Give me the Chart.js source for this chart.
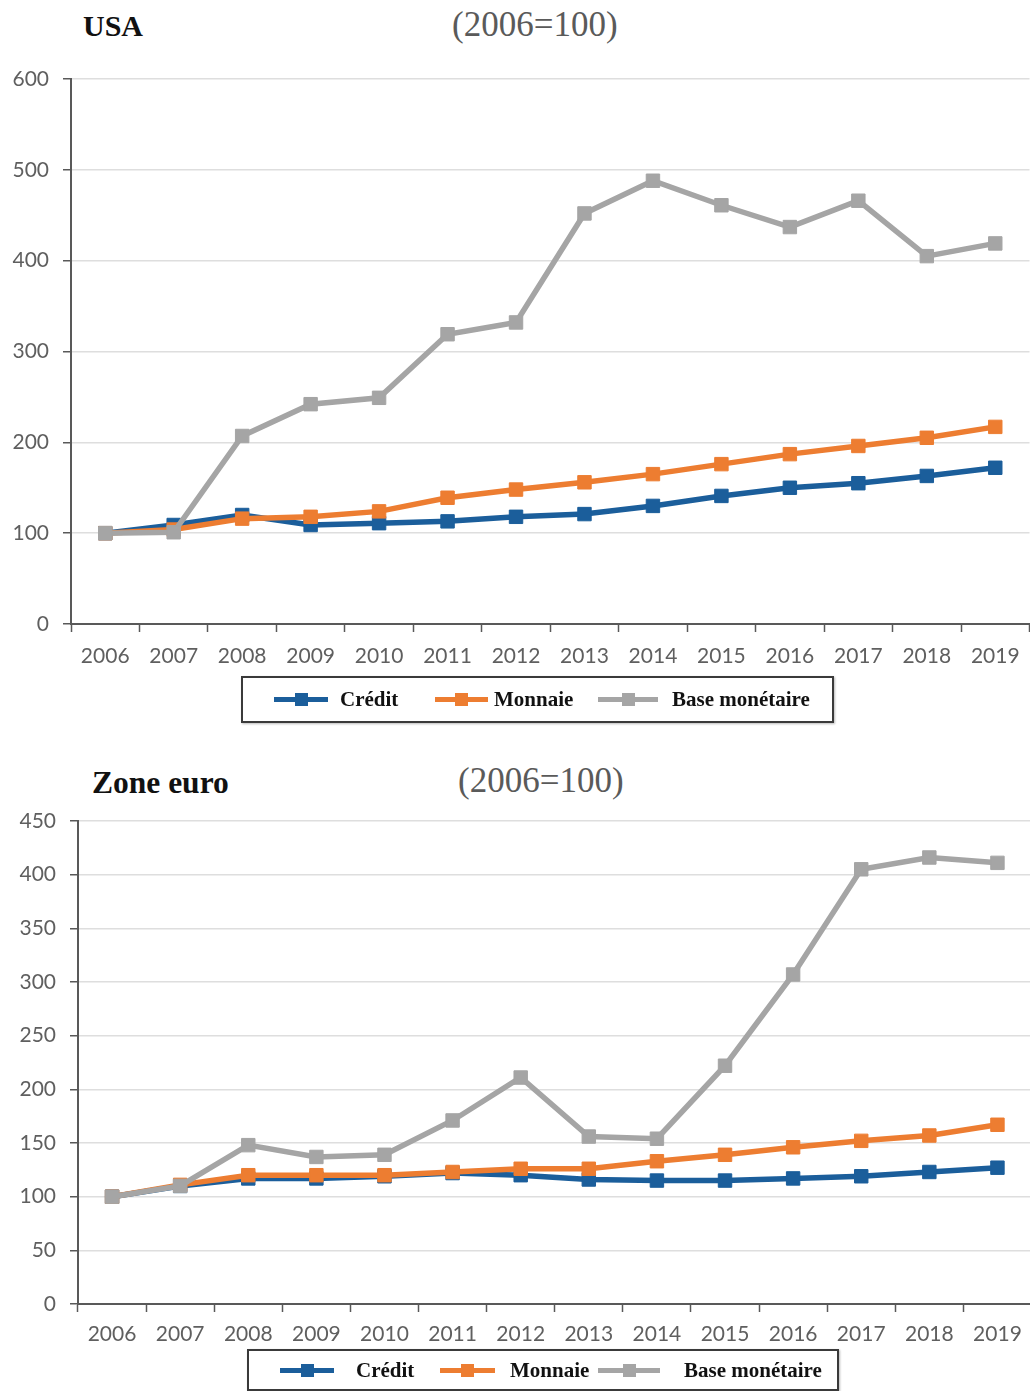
<!DOCTYPE html>
<html><head><meta charset="utf-8">
<script src="https://cdn.jsdelivr.net/npm/chart.js@4/dist/chart.umd.min.js"></script>
<style>
html,body{margin:0;padding:0;background:#fff;overflow:hidden;width:1030px;height:1391px;position:relative;}
.cv{position:absolute;left:0;}
.t{position:absolute;font-family:"Liberation Serif",serif;white-space:nowrap;line-height:1;}
.ttl{font-weight:bold;font-size:30px;color:#111;}
.sub{font-size:35px;color:#5a5a5a;}
.leg{position:absolute;border:2px solid #3a3a3a;box-sizing:border-box;background:#fff;box-shadow:1px 1px 2px #bbb;}
.li{position:absolute;font-family:"Liberation Serif",serif;font-weight:bold;font-size:21px;line-height:1;color:#111;white-space:nowrap;}
.ln{position:absolute;height:5px;}
.mk{position:absolute;width:13px;height:13px;}
</style>
</head><body>
<div class="t ttl" style="left:83px;top:11px;">USA</div>
<div class="t sub" style="left:452px;top:7px;">(2006=100)</div>
<canvas id="c1" class="cv" style="top:0px;" width="1040" height="676"></canvas>
<div class="t ttl" style="left:92px;top:767px;font-size:31.5px;">Zone euro</div>
<div class="t sub" style="left:458px;top:763px;">(2006=100)</div>
<canvas id="c2" class="cv" style="top:740px;" width="1042" height="616"></canvas>
<script>
const years = ['2006','2007','2008','2009','2010','2011','2012','2013','2014','2015','2016','2017','2018','2019'];
const seriesNames = ['Crédit','Monnaie','Base monétaire'];
const seriesColors = ['#1b5e9b','#ed7d31','#a5a5a5'];

// USA (2006=100)
const usaCredit  = [100,109,120,109,111,113,118,121,130,141,150,155,163,172];
const usaMonnaie = [100,104,116,118,124,139,148,156,165,176,187,196,205,217];
const usaBase    = [100,101,207,242,249,319,332,452,488,461,437,466,405,419];
const usaYMax = 600, usaYStep = 100;

// Zone euro (2006=100)
const euroCredit  = [100,110,117,117,119,122,120,116,115,115,117,119,123,127];
const euroMonnaie = [100,111,120,120,120,123,126,126,133,139,146,152,157,167];
const euroBase    = [100,110,148,137,139,171,211,156,154,222,307,405,416,411];
const euroYMax = 450, euroYStep = 50;

function makeChart(id, data, yMax, yStep, L) {
  const datasets = data.map((vals, i) => ({
    label: seriesNames[i],
    data: vals,
    borderColor: seriesColors[i],
    backgroundColor: seriesColors[i],
    pointBackgroundColor: seriesColors[i],
    pointBorderColor: seriesColors[i],
    borderWidth: 5.5,
    pointStyle: 'rect',
    pointRadius: 9.5,
    pointBorderWidth: 1,
    tension: 0,
    order: 3 - i
  }));
  return new Chart(document.getElementById(id), {
    type: 'line',
    data: { labels: years, datasets },
    options: {
      responsive: false,
      animation: false,
      devicePixelRatio: 1,
      layout: { padding: { left: 0, top: L.top, right: L.right, bottom: 0 } },
      plugins: { legend: { display: false }, tooltip: { enabled: false } },
      scales: {
        x: {
          offset: true,
          grid: { offset: true, drawOnChartArea: false, drawTicks: true, tickLength: 8, tickColor: '#595959', tickWidth: 1.5 },
          border: { color: '#595959', width: 2 },
          ticks: { color: '#5f5f5f', font: { family: 'Lato', size: 21 }, padding: L.xpad, maxRotation: 0, autoSkip: false },
          afterFit: s => { s.height = 52; }
        },
        y: {
          min: 0, max: yMax,
          ticks: { stepSize: yStep, color: '#5f5f5f', font: { family: 'Lato', size: 21 }, padding: 14 },
          grid: { color: '#dedede', lineWidth: 1.5, tickLength: 8, tickColor: '#595959', tickWidth: 1.5 },
          border: { color: '#595959', width: 2 },
          afterFit: s => { s.width = L.left; }
        }
      }
    }
  });
}

makeChart('c1', [usaCredit, usaMonnaie, usaBase], usaYMax, usaYStep, { left: 71, right: 6, top: 79, xpad: 12 });
makeChart('c2', [euroCredit, euroMonnaie, euroBase], euroYMax, euroYStep, { left: 78, right: 2, top: 81, xpad: 10 });

// Legends (HTML)
function makeLegend(box, items) {
  const b = document.createElement('div');
  b.className = 'leg';
  Object.assign(b.style, { left: box.x + 'px', top: box.y + 'px', width: box.w + 'px', height: box.h + 'px' });
  document.body.appendChild(b);
  items.forEach((it, i) => {
    const ln = document.createElement('div');
    ln.className = 'ln';
    Object.assign(ln.style, { left: it.l0 + 'px', width: (it.l1 - it.l0) + 'px', top: (box.cy - 2.5) + 'px', background: seriesColors[i] });
    document.body.appendChild(ln);
    const mk = document.createElement('div');
    mk.className = 'mk';
    Object.assign(mk.style, { left: ((it.l0 + it.l1) / 2 - 6.5) + 'px', top: (box.cy - 6.5) + 'px', background: seriesColors[i] });
    document.body.appendChild(mk);
    const tx = document.createElement('div');
    tx.className = 'li';
    tx.textContent = seriesNames[i];
    Object.assign(tx.style, { left: it.tx + 'px', top: (box.base - 17.5) + 'px' });
    document.body.appendChild(tx);
  });
}
makeLegend({ x: 241, y: 676, w: 593, h: 47, cy: 699, base: 706 }, [
  { l0: 274, l1: 328, tx: 340 },
  { l0: 435, l1: 488, tx: 494 },
  { l0: 598, l1: 658, tx: 672 }
]);
makeLegend({ x: 247, y: 1349, w: 592, h: 42, cy: 1370, base: 1377 }, [
  { l0: 280, l1: 334, tx: 356 },
  { l0: 440, l1: 495, tx: 510 },
  { l0: 598, l1: 660, tx: 684 }
]);
</script>
</body></html>
